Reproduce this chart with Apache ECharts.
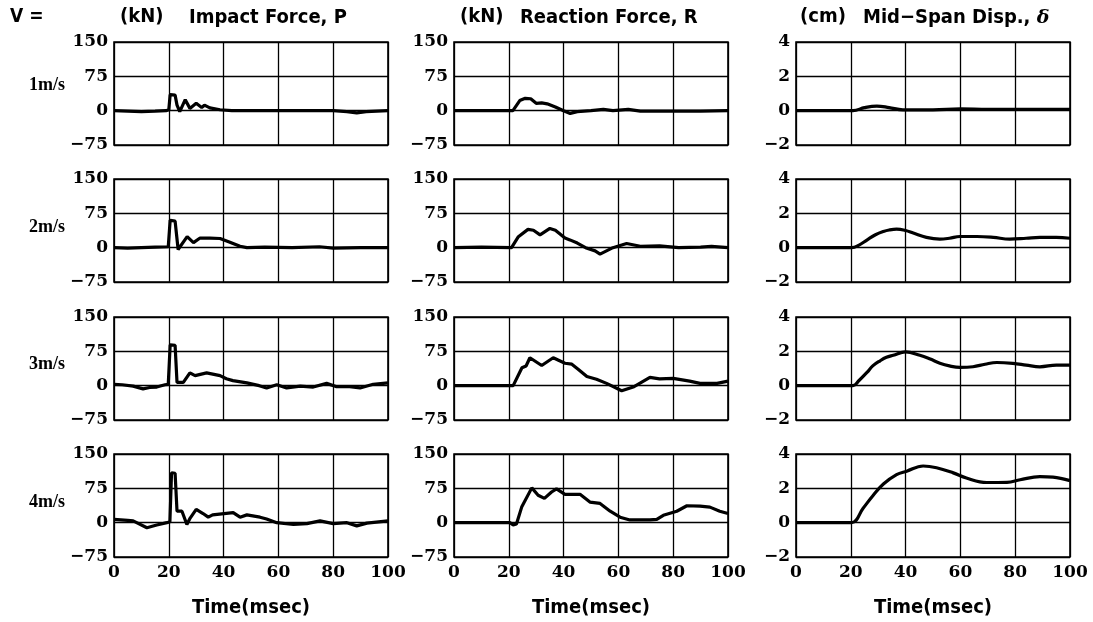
<!DOCTYPE html>
<html><head><meta charset="utf-8">
<script src="https://cdn.jsdelivr.net/npm/echarts@6/dist/echarts.min.js"></script>
<style>html,body{margin:0;padding:0;background:#fff}#c{width:1093px;height:622px}</style>
</head><body><div id="c"></div>
<script>
// ---- data (time in msec) ----
const speeds = ['1m/s', '2m/s', '3m/s', '4m/s'];
const colUnits = ['(kN)', '(kN)', '(cm)'];
const colNames = ['Impact Force, P', 'Reaction Force, R', 'Mid\u2212Span Disp., '];
const xLabel = 'Time(msec)';

const impact1T = [0,5,10,15,19,20,20.5,22.3,23,24,26,27.7,30,32,33,35,38.7,43,50,60,70,80,85,88.6,92,100];
const impact1V = [0,-1,-2,-1,0,2,35,34,12,-2,24,5,16,7,12,6,2,0,0,0,0,0,-2,-5,-2,0];
const react1T = [0,10,20,21.5,24,26,28,30,32,34,37,40,42.4,45,50,54.5,58,63.6,68,75,90,100];
const react1V = [0,0,0,0,22,27,26,16,17,15,8,0,-6,-2,0,3,0,3,-1,-1,-1,0];
const disp1T = [0,10,20.8,25,29.5,34,39,50,60,70,80,90,100];
const disp1V = [0,0,0,0.18,0.27,0.18,0.05,0.05,0.1,0.08,0.08,0.08,0.08];

const impact2T = [0,5,10,15,19.8,20.5,22.3,23.4,26.7,29,31.4,35,38.7,42.3,46,48.5,55,65,75,80,90,100];
const impact2V = [0,-1,0,1,2,60,58,-4,24,11,21,21,20,12,3,0,1,0,2,-1,0,0];
const react2T = [0,10,21,23.5,27,29,31.4,35,37,40.5,42.3,45,48,51.5,53.3,58,63,68,75,82,90,94,100];
const react2V = [0,1,0,24,40,38,28,42,38,21,17,10,0,-7,-14,0,9,3,4,0,1,3,0];
const disp2T = [0,10,20.3,23,26,29,31.9,34,36.7,40,42.8,47.6,52.5,56,59.8,66,72,78,84,89,95,100];
const disp2V = [0,0,0,0.15,0.46,0.75,0.94,1.03,1.08,1.0,0.85,0.6,0.5,0.55,0.65,0.65,0.6,0.5,0.55,0.6,0.6,0.55];

const impact3T = [0,3,7,10.6,13,15.6,18.6,19.8,20.5,22.3,23,25.3,27.7,29.6,33.8,38.7,41,43.4,48.5,53,55.7,59.4,63,68,72.7,77.6,81,86,89.8,94.6,100];
const impact3V = [3,2,-1,-7,-4,-3,2,3,89,88,7,7,28,22,28,22,15,11,6,0,-5,2,-5,-1,-3,5,-2,-2,-5,3,6];
const react3T = [0,10,21.6,24.8,26.3,27.7,32,36.2,40.5,43,45.3,48.5,52,55.7,61.2,65.4,71.5,75,80,86,89.8,96,100];
const react3V = [0,0,0,39,43,61,44,61,49,47,36,20,14,5,-11,-3,18,15,16,10,5,5,10];
const disp3T = [0,10,20.8,23,25.9,28,30.7,33,35.5,40,45.2,49,52.5,56,59.8,64.6,69,73.3,79.2,84,89,95,100];
const disp3V = [0,0,0,0.3,0.77,1.15,1.45,1.65,1.77,1.97,1.77,1.55,1.31,1.15,1.06,1.1,1.25,1.35,1.3,1.2,1.1,1.2,1.2];

const impact4T = [0,5,7,12,15.6,19.3,20.4,21,22.3,23,24.8,26.6,27.8,30,32.5,34.4,36,43.5,46,48.5,53.3,55.7,59.4,65.5,70.4,75.2,80,85,88.6,92.3,100];
const impact4V = [7,5,4,-11,-5,0,2,109,108,25,25,-4,10,29,20,12,17,22,12,17,12,8,0,-4,-2,4,-2,0,-7,-1,4];
const react4T = [0,10,20.4,21.6,22.8,24.7,28.4,30.7,33,35.6,37.4,40.5,46,49.6,53.3,57,60.6,64.2,71.5,74,76.4,81.3,85,89.8,93.4,97,100];
const react4V = [0,0,0,-5,-3,34,76,60,53,67,74,62,62,45,42,25,12,6,6,7,16,25,37,36,34,25,20];
const disp4T = [0,10,20.3,24.5,28.2,31.9,36.7,40.4,46.4,51.3,57.4,62.2,69.6,77,81.8,89,93.8,100];
const disp4V = [0,0,0,0.84,1.6,2.25,2.8,3.0,3.3,3.2,2.9,2.6,2.34,2.35,2.5,2.68,2.65,2.45];

const panels = [
  [[impact1T, impact1V], [react1T, react1V], [disp1T, disp1V]],
  [[impact2T, impact2V], [react2T, react2V], [disp2T, disp2V]],
  [[impact3T, impact3V], [react3T, react3V], [disp3T, disp3V]],
  [[impact4T, impact4V], [react4T, react4V], [disp4T, disp4V]]
];
const forceRange = [-75, 150, 75];
const dispRange = [-2, 4, 2];

// ---- layout ----
const colLeft = [114, 454, 796];
const rowTop = [42, 179, 317, 454];
const W = 274, H = 103;
const numFont = 'DejaVu Serif';
const sansFont = 'DejaVu Sans Condensed, DejaVu Sans, sans-serif';
const fmt = v => v < 0 ? '\u2212' + (-v) : String(v);

const grid = [], xAxis = [], yAxis = [], series = [];
for (let r = 0; r < 4; r++) {
  for (let c = 0; c < 3; c++) {
    const i = grid.length;
    const rng = c === 2 ? dispRange : forceRange;
    grid.push({left: colLeft[c], top: rowTop[r], width: W, height: H, show: true,
      borderColor: '#000', borderWidth: 1.6, backgroundColor: 'transparent'});
    xAxis.push({gridIndex: i, type: 'value', min: 0, max: 100, interval: 20,
      axisLine: {show: false}, axisTick: {show: false},
      axisLabel: {show: r === 3, margin: 7, color: '#000', fontFamily: numFont, fontWeight: 'bold', fontSize: 17},
      splitLine: {show: true, lineStyle: {color: '#000', width: 1.3}},
      name: r === 3 ? xLabel : '', nameLocation: 'middle', nameGap: 41,
      nameTextStyle: {color: '#000', fontFamily: sansFont, fontWeight: 'bold', fontSize: 20}});
    yAxis.push({gridIndex: i, type: 'value', min: rng[0], max: rng[1], interval: rng[2],
      axisLine: {show: false}, axisTick: {show: false},
      axisLabel: {margin: 6, color: '#000', fontFamily: numFont, fontWeight: 'bold', fontSize: 17, formatter: fmt},
      splitLine: {show: true, lineStyle: {color: '#000', width: 1.3}}});
    const [ts, vs] = panels[r][c];
    series.push({type: 'line', xAxisIndex: i, yAxisIndex: i,
      data: ts.map((t, k) => [t, vs[k]]), showSymbol: false, smooth: c === 2 ? 0.4 : false,
      lineStyle: {color: '#000', width: 3.2}, z: 5});
  }
}

const graphic = [];
graphic.push({type: 'text', left: 10, top: 8, style: {text: 'V =', fill: '#000',
  font: 'bold 19px ' + sansFont}});
const titleX = [[120, 189], [460, 520], [800, 863]];
for (let c = 0; c < 3; c++) {
  graphic.push({type: 'text', left: titleX[c][0], top: 7, style: {text: colUnits[c], fill: '#000',
    font: 'bold 20px ' + sansFont}});
  if (c < 2) {
    graphic.push({type: 'text', left: titleX[c][1], top: 8, style: {text: colNames[c], fill: '#000',
      font: 'bold 20px ' + sansFont}});
  } else {
    graphic.push({type: 'text', left: titleX[c][1], top: 8, style: {
      text: '{a|' + colNames[c] + '}{d|\u03b4}',
      rich: {a: {fill: '#000', fontFamily: sansFont, fontWeight: 'bold', fontSize: 20},
             d: {fill: '#000', fontFamily: 'DejaVu Serif', fontWeight: 'bold', fontStyle: 'italic', fontSize: 19}}}});
  }
}
const labelY = [86, 228, 365, 503];
for (let r = 0; r < 4; r++) {
  graphic.push({type: 'text', left: 29, top: labelY[r] - 10, style: {text: speeds[r], fill: '#000',
    font: 'bold 18px Liberation Serif'}});
}

const chart = echarts.init(document.getElementById('c'), null, {renderer: 'canvas'});
chart.setOption({animation: false, backgroundColor: '#fff', grid, xAxis, yAxis, series, graphic});
</script></body></html>
